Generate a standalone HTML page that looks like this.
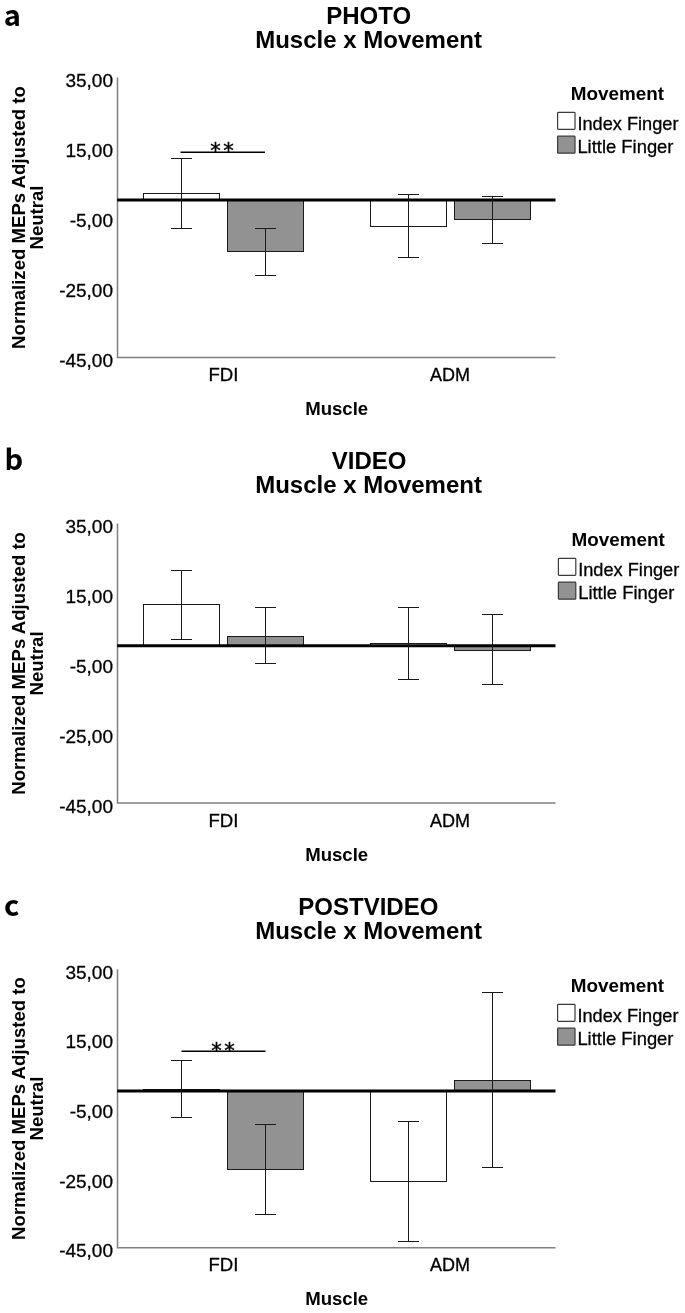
<!DOCTYPE html>
<html lang="en"><head><meta charset="utf-8"><title>Muscle x Movement</title>
<style>
html,body{margin:0;padding:0;background:#fff;}
svg{display:block;}
text{font-family:"Liberation Sans",sans-serif;fill:#000;}
.tt{font-size:24px;font-weight:bold;}
.bl{font-size:18.6px;font-weight:bold;white-space:pre;}
.tk{font-size:18.6px;}
.tn{font-size:19px;}
.lg{font-size:18.2px;}
.tk,.tn,.lg{stroke:#000;stroke-width:0.3px;}
.pl{font-size:29px;font-weight:bold;font-family:"Noto Sans CJK SC","DejaVu Sans Condensed","Liberation Sans",sans-serif;}
.st{font-size:21px;font-family:"DejaVu Sans","Liberation Sans",sans-serif;}
</style></head><body>
<svg width="685" height="1313" viewBox="0 0 685 1313">
<rect width="685" height="1313" fill="#fff"/>
<g>
<text x="3.8" y="26.0" class="pl">a</text>
<text x="368.6" y="24.0" class="tt" text-anchor="middle">PHOTO</text>
<text x="368.6" y="47.5" class="tt" text-anchor="middle">Muscle x Movement</text>
<text transform="translate(25,217.5) rotate(-90)" class="bl" text-anchor="middle">Normalized MEPs Adjusted to</text>
<text transform="translate(43,217.5) rotate(-90)" class="bl" text-anchor="middle">Neutral</text>
<text x="113" y="87.0" class="tn" text-anchor="end">35,00</text>
<text x="113" y="157.1" class="tn" text-anchor="end">15,00</text>
<text x="113" y="227.1" class="tn" text-anchor="end">-5,00</text>
<text x="113" y="297.2" class="tn" text-anchor="end">-25,00</text>
<text x="113" y="367.2" class="tn" text-anchor="end">-45,00</text>
<rect x="143.5" y="193.5" width="76.0" height="6.5" fill="#fff" stroke="#1a1a1a" stroke-width="1"/>
<rect x="227.5" y="200.0" width="76.0" height="51.5" fill="#929292" stroke="#1a1a1a" stroke-width="1"/>
<rect x="370.5" y="200.0" width="76.0" height="26.5" fill="#fff" stroke="#1a1a1a" stroke-width="1"/>
<rect x="454.5" y="200.0" width="76.0" height="19.5" fill="#929292" stroke="#1a1a1a" stroke-width="1"/>
<path d="M117.5 77.4V357.6H555.5" fill="none" stroke="#808080" stroke-width="1.5"/>
<line x1="117.2" x2="555.5" y1="200.0" y2="200.0" stroke="#000" stroke-width="2.9"/>
<path d="M181.5 158.5V228.5M171.0 158.5h21M171.0 228.5h21" fill="none" stroke="#1a1a1a" stroke-width="1"/>
<path d="M265.5 228.5V275.5M255.0 228.5h21M255.0 275.5h21" fill="none" stroke="#1a1a1a" stroke-width="1"/>
<path d="M408.5 194.5V257.5M398.0 194.5h21M398.0 257.5h21" fill="none" stroke="#1a1a1a" stroke-width="1"/>
<path d="M492.5 196.5V243.5M482.0 196.5h21M482.0 243.5h21" fill="none" stroke="#1a1a1a" stroke-width="1"/>
<line x1="180.5" x2="265" y1="152.2" y2="152.2" stroke="#000" stroke-width="1.6"/>
<text x="215.4" y="158.4" class="st" text-anchor="middle" stroke="#000" stroke-width="0.45">*</text>
<text x="228.4" y="158.4" class="st" text-anchor="middle" stroke="#000" stroke-width="0.45">*</text>
<text x="223.5" y="381.2" class="tk" text-anchor="middle">FDI</text>
<text x="450" y="381.2" class="tk" text-anchor="middle" style="font-size:18px">ADM</text>
<text x="336.7" y="415.2" class="bl" text-anchor="middle">Muscle</text>
<text x="570.8" y="99.8" class="bl" style="font-size:18.86px">Movement</text>
<rect x="557.6" y="112.3" width="17.4" height="17" rx="0.8" fill="#fff" stroke="#3a3a3a" stroke-width="1.2"/>
<rect x="557.6" y="136.2" width="17.4" height="17" rx="0.8" fill="#929292" stroke="#3a3a3a" stroke-width="1.2"/>
<text x="577.4" y="129.5" class="lg">Index Finger</text>
<text x="577.4" y="153.4" class="lg" style="font-size:18.4px">Little Finger</text>
</g>
<g>
<text x="4.6" y="470.4" class="pl">b</text>
<text x="369.2" y="468.9" class="tt" text-anchor="middle">VIDEO</text>
<text x="368.6" y="492.8" class="tt" text-anchor="middle">Muscle x Movement</text>
<text transform="translate(25,663.4) rotate(-90)" class="bl" text-anchor="middle">Normalized MEPs Adjusted to</text>
<text transform="translate(43,663.4) rotate(-90)" class="bl" text-anchor="middle">Neutral</text>
<text x="113" y="533.2" class="tn" text-anchor="end">35,00</text>
<text x="113" y="603.1" class="tn" text-anchor="end">15,00</text>
<text x="113" y="673.0" class="tn" text-anchor="end">-5,00</text>
<text x="113" y="742.8" class="tn" text-anchor="end">-25,00</text>
<text x="113" y="812.7" class="tn" text-anchor="end">-45,00</text>
<rect x="143.5" y="604.5" width="76.0" height="41.2" fill="#fff" stroke="#1a1a1a" stroke-width="1"/>
<rect x="227.5" y="636.5" width="76.0" height="9.2" fill="#929292" stroke="#1a1a1a" stroke-width="1"/>
<rect x="370.5" y="643.5" width="76.0" height="2.2" fill="#fff" stroke="#1a1a1a" stroke-width="1"/>
<rect x="454.5" y="645.7" width="76.0" height="4.8" fill="#929292" stroke="#1a1a1a" stroke-width="1"/>
<path d="M117.5 523.6V803.1H555.5" fill="none" stroke="#808080" stroke-width="1.5"/>
<line x1="117.2" x2="555.5" y1="645.7" y2="645.7" stroke="#000" stroke-width="2.9"/>
<path d="M181.5 570.5V639.5M171.0 570.5h21M171.0 639.5h21" fill="none" stroke="#1a1a1a" stroke-width="1"/>
<path d="M265.5 607.5V663.5M255.0 607.5h21M255.0 663.5h21" fill="none" stroke="#1a1a1a" stroke-width="1"/>
<path d="M408.5 607.5V679.5M398.0 607.5h21M398.0 679.5h21" fill="none" stroke="#1a1a1a" stroke-width="1"/>
<path d="M492.5 614.5V684.5M482.0 614.5h21M482.0 684.5h21" fill="none" stroke="#1a1a1a" stroke-width="1"/>
<text x="223.5" y="826.7" class="tk" text-anchor="middle">FDI</text>
<text x="450" y="826.7" class="tk" text-anchor="middle" style="font-size:18px">ADM</text>
<text x="336.7" y="860.7" class="bl" text-anchor="middle">Muscle</text>
<text x="571.6" y="545.8" class="bl" style="font-size:18.86px">Movement</text>
<rect x="558.4" y="558.3" width="17.4" height="17" rx="0.8" fill="#fff" stroke="#3a3a3a" stroke-width="1.2"/>
<rect x="558.4" y="582.2" width="17.4" height="17" rx="0.8" fill="#929292" stroke="#3a3a3a" stroke-width="1.2"/>
<text x="578.2" y="575.5" class="lg">Index Finger</text>
<text x="578.2" y="599.4" class="lg" style="font-size:18.4px">Little Finger</text>
</g>
<g>
<text x="3.9" y="915.8" class="pl">c</text>
<text x="368.3" y="914.5" class="tt" text-anchor="middle">POSTVIDEO</text>
<text x="368.6" y="938.9" class="tt" text-anchor="middle">Muscle x Movement</text>
<text transform="translate(25,1108.5) rotate(-90)" class="bl" text-anchor="middle">Normalized MEPs Adjusted to</text>
<text transform="translate(43,1108.5) rotate(-90)" class="bl" text-anchor="middle">Neutral</text>
<text x="113" y="978.8" class="tn" text-anchor="end">35,00</text>
<text x="113" y="1048.4" class="tn" text-anchor="end">15,00</text>
<text x="113" y="1118.1" class="tn" text-anchor="end">-5,00</text>
<text x="113" y="1187.8" class="tn" text-anchor="end">-25,00</text>
<text x="113" y="1257.4" class="tn" text-anchor="end">-45,00</text>
<rect x="143.5" y="1089.5" width="76.0" height="1.5" fill="#fff" stroke="#1a1a1a" stroke-width="1"/>
<rect x="227.5" y="1091.0" width="76.0" height="78.5" fill="#929292" stroke="#1a1a1a" stroke-width="1"/>
<rect x="370.5" y="1091.0" width="76.0" height="90.5" fill="#fff" stroke="#1a1a1a" stroke-width="1"/>
<rect x="454.5" y="1080.5" width="76.0" height="10.5" fill="#929292" stroke="#1a1a1a" stroke-width="1"/>
<path d="M117.5 969.2V1247.8H555.5" fill="none" stroke="#808080" stroke-width="1.5"/>
<line x1="117.2" x2="555.5" y1="1091.0" y2="1091.0" stroke="#000" stroke-width="2.9"/>
<path d="M181.5 1060.5V1117.5M171.0 1060.5h21M171.0 1117.5h21" fill="none" stroke="#1a1a1a" stroke-width="1"/>
<path d="M265.5 1124.5V1214.5M255.0 1124.5h21M255.0 1214.5h21" fill="none" stroke="#1a1a1a" stroke-width="1"/>
<path d="M408.5 1121.5V1241.5M398.0 1121.5h21M398.0 1241.5h21" fill="none" stroke="#1a1a1a" stroke-width="1"/>
<path d="M492.5 992.5V1167.5M482.0 992.5h21M482.0 1167.5h21" fill="none" stroke="#1a1a1a" stroke-width="1"/>
<line x1="181.5" x2="265.6" y1="1051.3" y2="1051.3" stroke="#000" stroke-width="1.6"/>
<text x="216.4" y="1058.0" class="st" text-anchor="middle" stroke="#000" stroke-width="0.45">*</text>
<text x="229.4" y="1058.0" class="st" text-anchor="middle" stroke="#000" stroke-width="0.45">*</text>
<text x="223.5" y="1271.4" class="tk" text-anchor="middle">FDI</text>
<text x="450" y="1271.4" class="tk" text-anchor="middle" style="font-size:18px">ADM</text>
<text x="336.7" y="1305.4" class="bl" text-anchor="middle">Muscle</text>
<text x="570.8" y="991.8" class="bl" style="font-size:18.86px">Movement</text>
<rect x="557.6" y="1004.3" width="17.4" height="17" rx="0.8" fill="#fff" stroke="#3a3a3a" stroke-width="1.2"/>
<rect x="557.6" y="1028.2" width="17.4" height="17" rx="0.8" fill="#929292" stroke="#3a3a3a" stroke-width="1.2"/>
<text x="577.4" y="1021.5" class="lg">Index Finger</text>
<text x="577.4" y="1045.4" class="lg" style="font-size:18.4px">Little Finger</text>
</g>
</svg>
</body></html>
